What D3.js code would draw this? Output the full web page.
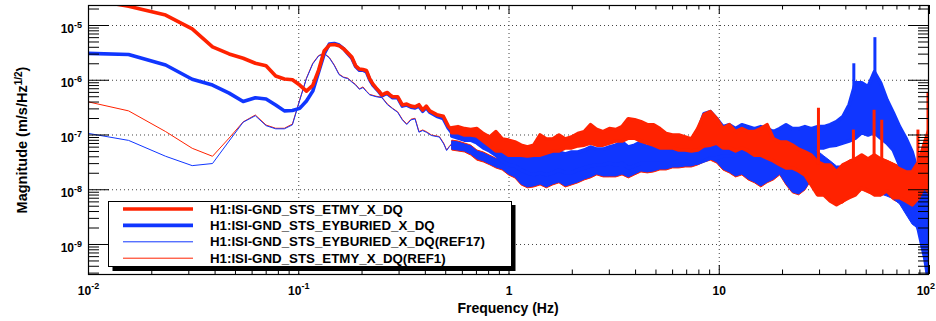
<!DOCTYPE html>
<html>
<head>
<meta charset="utf-8">
<title>H1 ISI ground STS spectra</title>
<script src="https://cdn.jsdelivr.net/npm/d3@7/dist/d3.min.js"></script>
<style>
  html, body { margin: 0; padding: 0; background: #fff; }
  svg { display: block; }
  text { font-family: "Liberation Sans", Arial, Helvetica, sans-serif; font-weight: bold; }
</style>
</head>
<body>
<svg id="chart" width="936" height="321"></svg>
<script>
// ---------------- axis ranges and tick labels ----------------
const xRange = [0.01, 100];
const yRange = [2.83e-10, 2.32e-5];
const xTickValues = [0.01, 0.1, 1, 10, 100];
const xTickLabels = ["10^-2", "10^-1", "1", "10", "10^2"];
const yTickValues = [1e-9, 1e-8, 1e-7, 1e-6, 1e-5];
const yTickLabels = ["10^-9", "10^-8", "10^-7", "10^-6", "10^-5"];
const xTitle = "Frequency (Hz)";
const yTitle = ["Magnitude (m/s/Hz", "1/2", ")"];

// ---------------- channel names (legend order) ----------------
const channelNames = [
  "H1:ISI-GND_STS_ETMY_X_DQ",
  "H1:ISI-GND_STS_EYBURIED_X_DQ",
  "H1:ISI-GND_STS_EYBURIED_X_DQ(REF17)",
  "H1:ISI-GND_STS_ETMY_X_DQ(REF1)"
];

// ---------------- low-frequency spectra (single-valued) ----------------
const lowFreqLive = [0.0078, 0.0156, 0.0234, 0.0313, 0.0391, 0.0469, 0.0547, 0.0625, 0.0703, 0.0781,
  0.0859, 0.0938, 0.1016, 0.1094, 0.1172, 0.125, 0.1328, 0.1406, 0.1484, 0.1563,
  0.1641, 0.1719, 0.1797, 0.1875, 0.1953, 0.2031, 0.2109, 0.2188, 0.2266, 0.2344,
  0.2422, 0.25, 0.2578, 0.2656, 0.2734, 0.2813, 0.2969, 0.3125, 0.3281, 0.3438,
  0.3594, 0.375, 0.3906, 0.4063, 0.4219, 0.4556, 0.4898, 0.517, 0.537];
const etmyLow = [3.5e-5, 2.2e-5, 1.52e-5, 8.5e-6, 4.0e-6, 2.96e-6, 2.47e-6, 2.0e-6, 1.8e-6, 1.17e-6,
  1.03e-6, 1.0e-6, 8.0e-7, 6.2e-7, 7.9e-7, 1.5e-6, 3.35e-6, 4.3e-6, 4.4e-6, 4.2e-6,
  3.7e-6, 3.1e-6, 2.6e-6, 1.8e-6, 1.57e-6, 1.54e-6, 1.48e-6, 1.04e-6, 8.3e-7, 7.1e-7,
  6.2e-7, 5.26e-7, 5.6e-7, 5.85e-7, 5.26e-7, 4.9e-7, 4.9e-7, 3.46e-7, 3.6e-7, 3.3e-7,
  3.2e-7, 3.5e-7, 2.8e-7, 3.3e-7, 2.7e-7, 2.3e-7, 2.15e-7, 1.42e-7, 1.2e-7];
const eyburiedLow = [3.1e-6, 2.9e-6, 1.86e-6, 1.02e-6, 8.0e-7, 5.7e-7, 4.0e-7, 4.7e-7, 4.45e-7, 3.46e-7,
  2.7e-7, 2.75e-7, 3.0e-7, 4.1e-7, 6.2e-7, 1.39e-6, 2.96e-6, 4.5e-6, 4.6e-6, 4.3e-6,
  3.7e-6, 3.0e-6, 2.5e-6, 1.75e-6, 1.5e-6, 1.5e-6, 1.4e-6, 1.0e-6, 8.0e-7, 6.9e-7,
  6.0e-7, 5.1e-7, 5.4e-7, 5.6e-7, 5.1e-7, 4.7e-7, 4.7e-7, 3.3e-7, 3.45e-7, 3.15e-7,
  3.05e-7, 3.3e-7, 2.65e-7, 3.1e-7, 2.55e-7, 2.15e-7, 1.95e-7, 1.3e-7, 1.08e-7];

const lowFreqRef = [0.0078, 0.0156, 0.0234, 0.0313, 0.0391, 0.0469, 0.0547, 0.0625, 0.0703, 0.0781,
  0.0859, 0.0938, 0.1016, 0.1094, 0.1172, 0.125, 0.1328, 0.1406, 0.1484, 0.1563,
  0.1641, 0.1719, 0.1797, 0.1875, 0.1953, 0.2031, 0.2109, 0.2188, 0.2344, 0.25,
  0.2656, 0.2813, 0.2969, 0.3125, 0.3281, 0.3438, 0.3594, 0.375, 0.3906, 0.4063,
  0.4297, 0.4531, 0.4688, 0.4922, 0.5078, 0.5234, 0.537];
const ref17Low = [1.24e-7, 7.8e-8, 4.0e-8, 2.7e-8, 2.95e-8, 7.6e-8, 1.68e-7, 2.2e-7, 1.45e-7, 1.27e-7,
  1.27e-7, 1.5e-7, 4.2e-7, 1.05e-6, 1.95e-6, 2.72e-6, 3.0e-6, 2.5e-6, 1.82e-6, 1.24e-6,
  1.1e-6, 1.05e-6, 9.1e-7, 8.0e-7, 6.7e-7, 7.2e-7, 6.1e-7, 5.3e-7, 4.9e-7, 4.7e-7,
  3.5e-7, 2.95e-7, 2.55e-7, 1.85e-7, 1.52e-7, 1.85e-7, 1.93e-7, 1.1e-7, 1.18e-7, 1.1e-7,
  9.6e-8, 9.2e-8, 9.0e-8, 6.7e-8, 5.1e-8, 6.0e-8, 6.6e-8];
const ref1Low = [4.9e-7, 2.7e-7, 1.13e-7, 5.6e-8, 4.0e-8, 8.6e-8, 1.7e-7, 2.27e-7, 1.49e-7, 1.3e-7,
  1.3e-7, 1.55e-7, 4.3e-7, 1.07e-6, 2.0e-6, 2.77e-6, 3.05e-6, 2.55e-6, 1.86e-6, 1.27e-6,
  1.12e-6, 1.07e-6, 9.3e-7, 8.2e-7, 6.8e-7, 7.4e-7, 6.2e-7, 5.4e-7, 5.0e-7, 4.8e-7,
  3.6e-7, 3.0e-7, 2.6e-7, 1.9e-7, 1.56e-7, 1.9e-7, 1.98e-7, 1.13e-7, 1.21e-7, 1.13e-7,
  9.8e-8, 9.4e-8, 9.2e-8, 6.9e-8, 5.2e-8, 6.1e-8, 6.8e-8];

// ---------------- high-frequency spectra: min / max per frequency band ----------------
const bandFreq = [0.537, 0.575, 0.617, 0.661, 0.708, 0.759, 0.813, 0.871, 0.933, 1.0,
  1.072, 1.148, 1.23, 1.318, 1.413, 1.514, 1.622, 1.738, 1.862, 1.995,
  2.138, 2.291, 2.455, 2.63, 2.818, 3.02, 3.236, 3.467, 3.715, 3.981,
  4.266, 4.571, 4.898, 5.248, 5.623, 6.026, 6.457, 6.918, 7.413, 7.943,
  8.511, 9.12, 9.772, 10.47, 11.22, 12.02, 12.88, 13.8, 14.79, 15.85,
  16.98, 18.2, 19.5, 20.89, 22.39, 23.99, 25.7, 27.54, 29.51, 31.62,
  33.88, 36.31, 38.9, 41.69, 44.67, 47.86, 51.29, 54.95, 58.88, 63.1,
  67.61, 72.44, 77.62, 83.18, 89.13, 95.5, 100];

const etmyHi = [1.33e-7, 1.39e-7, 1.28e-7, 1.23e-7, 1.28e-7, 1.04e-7, 9.0e-8, 1.13e-7, 8.3e-8, 7.9e-8,
  7.3e-8, 6.4e-8, 5.9e-8, 6.4e-8, 9.8e-8, 8.3e-8, 8.3e-8, 9.8e-8, 8.3e-8, 9.0e-8,
  1.04e-7, 1.13e-7, 1.51e-7, 1.23e-7, 1.13e-7, 1.28e-7, 1.23e-7, 1.39e-7, 1.94e-7, 1.86e-7,
  1.71e-7, 1.51e-7, 1.51e-7, 1.28e-7, 1.04e-7, 9.8e-8, 9.8e-8, 9.0e-8, 8.3e-8, 1.28e-7,
  2.3e-7, 2.61e-7, 1.94e-7, 1.28e-7, 1.51e-7, 1.13e-7, 1.28e-7, 1.13e-7, 1.13e-7, 1.28e-7,
  1.51e-7, 8.3e-8, 7.3e-8, 7.3e-8, 6.4e-8, 5.4e-8, 4.8e-8, 4.2e-8, 3.15e-8, 2.78e-8,
  2.78e-8, 2.07e-8, 2.78e-8, 3.15e-8, 3.57e-8, 4.23e-8, 3.57e-8, 4.23e-8, 3.57e-8, 3.15e-8,
  2.78e-8, 2.35e-8, 2.07e-8, 2.07e-8, 3.15e-8, 7.3e-8, 1.23e-7];
const etmyLo = [1.08e-7, 1.08e-7, 9.8e-8, 9.8e-8, 9.4e-8, 7.6e-8, 6.2e-8, 5.0e-8, 5.0e-8, 4.2e-8,
  4.2e-8, 4.2e-8, 4.05e-8, 4.2e-8, 4.2e-8, 4.6e-8, 5.0e-8, 5.0e-8, 5.7e-8, 5.7e-8,
  6.2e-8, 6.4e-8, 7.0e-8, 6.4e-8, 6.4e-8, 7.0e-8, 7.6e-8, 7.6e-8, 8.6e-8, 8.6e-8,
  7.6e-8, 7.0e-8, 6.4e-8, 5.7e-8, 5.7e-8, 5.7e-8, 5.2e-8, 5.2e-8, 5.0e-8, 5.2e-8,
  6.2e-8, 6.4e-8, 7.0e-8, 5.7e-8, 5.7e-8, 5.0e-8, 5.7e-8, 5.0e-8, 4.2e-8, 4.2e-8,
  3.7e-8, 3.3e-8, 2.8e-8, 2.45e-8, 2.45e-8, 2.16e-8, 1.83e-8, 1.2e-8, 7.9e-9, 7.9e-9,
  6.1e-9, 5.2e-9, 6.1e-9, 7.0e-9, 7.9e-9, 1.06e-8, 9.4e-9, 7.9e-9, 7.9e-9, 9.4e-9,
  7.0e-9, 7.0e-9, 6.1e-9, 5.2e-9, 7.0e-9, 1.2e-8, 1.2e-8];

const eyburiedHi = [1.23e-7, 1.13e-7, 1.04e-7, 1.04e-7, 9.0e-8, 8.3e-8, 7.3e-8, 6.4e-8, 5.4e-8, 5.2e-8,
  4.8e-8, 4.8e-8, 4.4e-8, 4.2e-8, 4.8e-8, 4.4e-8, 4.8e-8, 4.8e-8, 4.4e-8, 4.8e-8,
  4.8e-8, 5.2e-8, 5.9e-8, 5.4e-8, 5.4e-8, 5.9e-8, 6.4e-8, 7.3e-8, 5.9e-8, 6.4e-8,
  7.3e-8, 5.9e-8, 6.4e-8, 6.4e-8, 5.9e-8, 5.4e-8, 5.9e-8, 6.7e-8, 6.4e-8, 1.13e-7,
  2.4e-7, 2.61e-7, 1.94e-7, 1.39e-7, 1.51e-7, 1.28e-7, 1.51e-7, 1.39e-7, 1.28e-7, 1.39e-7,
  1.28e-7, 1.13e-7, 1.28e-7, 1.51e-7, 1.28e-7, 1.28e-7, 1.39e-7, 1.28e-7, 1.39e-7, 1.39e-7,
  1.51e-7, 1.71e-7, 2.11e-7, 3.5e-7, 8.8e-7, 8.8e-7, 7.45e-7, 1.39e-6, 8.8e-7, 4.31e-7,
  2.5e-7, 1.39e-7, 8.6e-8, 4.8e-8, 1.83e-8, 6.4e-9, 2.7e-9];
const eyburiedLo = [9.4e-8, 8.6e-8, 7.9e-8, 7.9e-8, 7.0e-8, 5.7e-8, 5.0e-8, 4.2e-8, 3.3e-8, 2.78e-8,
  2.66e-8, 2.25e-8, 1.99e-8, 1.83e-8, 1.99e-8, 1.83e-8, 1.99e-8, 2.25e-8, 1.99e-8, 1.99e-8,
  2.25e-8, 2.45e-8, 2.66e-8, 2.78e-8, 2.78e-8, 3.0e-8, 2.78e-8, 3.0e-8, 2.45e-8, 2.66e-8,
  3.0e-8, 3.0e-8, 3.0e-8, 3.0e-8, 3.0e-8, 3.0e-8, 3.3e-8, 3.3e-8, 3.0e-8, 3.0e-8,
  3.3e-8, 3.7e-8, 3.7e-8, 4.05e-8, 4.05e-8, 4.2e-8, 4.6e-8, 4.6e-8, 4.2e-8, 4.2e-8,
  4.2e-8, 4.2e-8, 4.6e-8, 4.6e-8, 4.6e-8, 4.6e-8, 5.0e-8, 5.0e-8, 5.7e-8, 5.7e-8,
  6.2e-8, 6.4e-8, 7.0e-8, 7.6e-8, 8.6e-8, 1.08e-7, 9.8e-8, 1.08e-7, 8.6e-8, 7.0e-8,
  5.2e-8, 2.78e-8, 1.2e-8, 4.2e-9, 1.8e-9, 5.5e-10, 1.8e-10];

const ref17Hi = [7.6e-8, 7.3e-8, 6.7e-8, 6.2e-8, 5.0e-8, 4.6e-8, 4.05e-8, 3.6e-8, 3.3e-8, 3.0e-8,
  2.9e-8, 2.9e-8, 2.66e-8, 2.9e-8, 3.0e-8, 2.66e-8, 2.9e-8, 3.3e-8, 2.9e-8, 3.0e-8,
  3.3e-8, 3.6e-8, 4.05e-8, 4.05e-8, 3.0e-8, 2.9e-8, 3.3e-8, 3.6e-8, 3.3e-8, 3.7e-8,
  4.05e-8, 3.7e-8, 4.05e-8, 4.4e-8, 5.0e-8, 4.6e-8, 5.0e-8, 5.0e-8, 5.4e-8, 6.2e-8,
  7.6e-8, 8.3e-8, 7.0e-8, 6.2e-8, 5.7e-8, 5.0e-8, 5.7e-8, 5.0e-8, 4.6e-8, 4.05e-8,
  5.0e-8, 5.0e-8, 6.2e-8, 5.0e-8, 4.05e-8, 3.3e-8, 4.05e-8, 5.0e-8, 5.0e-8, 4.05e-8,
  3.3e-8, 2.66e-8, 2.66e-8, 3.3e-8, 3.6e-8, 4.05e-8, 3.6e-8, 3.6e-8, 3.3e-8, 3.0e-8,
  2.66e-8, 2.16e-8, 1.75e-8, 1.42e-8, 1.15e-8, 9.3e-9, 7.5e-9];
const ref17Lo = [5.4e-8, 5.2e-8, 5.0e-8, 4.4e-8, 3.6e-8, 3.3e-8, 2.9e-8, 2.55e-8, 2.35e-8, 1.9e-8,
  1.68e-8, 1.25e-8, 1.1e-8, 1.15e-8, 1.25e-8, 1.1e-8, 1.25e-8, 1.36e-8, 1.15e-8, 1.25e-8,
  1.36e-8, 1.54e-8, 1.68e-8, 1.9e-8, 1.75e-8, 1.75e-8, 1.75e-8, 1.9e-8, 1.68e-8, 1.9e-8,
  2.16e-8, 2.07e-8, 2.16e-8, 2.35e-8, 2.35e-8, 2.55e-8, 2.55e-8, 2.66e-8, 2.66e-8, 2.9e-8,
  3.3e-8, 3.6e-8, 3.15e-8, 2.35e-8, 2.07e-8, 1.75e-8, 1.9e-8, 1.54e-8, 1.36e-8, 1.15e-8,
  1.36e-8, 1.54e-8, 1.9e-8, 1.25e-8, 8.9e-9, 8.2e-9, 1.0e-8, 1.54e-8, 1.75e-8, 1.25e-8,
  8.2e-9, 6.7e-9, 6.7e-9, 8.2e-9, 8.9e-9, 1.0e-8, 9.4e-9, 8.2e-9, 8.2e-9, 7.5e-9,
  6.7e-9, 5.4e-9, 3.5e-9, 2.3e-9, 1.9e-9, 1.23e-9, 8.1e-10];

const ref1Hi = [7.9e-8, 7.6e-8, 7.0e-8, 6.4e-8, 5.2e-8, 4.8e-8, 4.2e-8, 3.7e-8, 3.4e-8, 3.15e-8,
  3.0e-8, 3.0e-8, 2.78e-8, 3.0e-8, 3.15e-8, 2.78e-8, 3.0e-8, 3.4e-8, 3.0e-8, 3.15e-8,
  3.4e-8, 3.7e-8, 4.2e-8, 4.2e-8, 3.15e-8, 3.0e-8, 3.4e-8, 3.7e-8, 3.4e-8, 3.9e-8,
  4.2e-8, 3.9e-8, 4.2e-8, 4.6e-8, 5.2e-8, 4.8e-8, 5.2e-8, 5.2e-8, 5.7e-8, 6.4e-8,
  7.9e-8, 8.6e-8, 7.3e-8, 6.4e-8, 5.9e-8, 5.2e-8, 5.9e-8, 5.2e-8, 4.8e-8, 4.2e-8,
  5.2e-8, 5.2e-8, 6.4e-8, 5.2e-8, 4.2e-8, 3.4e-8, 4.2e-8, 5.2e-8, 5.2e-8, 3.4e-8,
  3.0e-8, 2.45e-8, 2.78e-8, 3.4e-8, 3.7e-8, 4.2e-8, 3.7e-8, 4.05e-8, 3.7e-8, 3.4e-8,
  3.0e-8, 2.66e-8, 2.25e-8, 2.25e-8, 2.78e-8, 5.2e-8, 1.23e-7];
const ref1Lo = [5.2e-8, 5.0e-8, 4.8e-8, 4.2e-8, 3.4e-8, 3.15e-8, 2.8e-8, 2.45e-8, 2.25e-8, 1.83e-8,
  1.61e-8, 1.2e-8, 1.06e-8, 1.1e-8, 1.2e-8, 1.06e-8, 1.2e-8, 1.31e-8, 1.1e-8, 1.2e-8,
  1.31e-8, 1.48e-8, 1.61e-8, 1.83e-8, 1.68e-8, 1.68e-8, 1.68e-8, 1.83e-8, 1.61e-8, 1.83e-8,
  2.07e-8, 1.99e-8, 2.07e-8, 2.25e-8, 2.25e-8, 2.45e-8, 2.45e-8, 2.55e-8, 2.55e-8, 2.78e-8,
  3.15e-8, 3.4e-8, 3.0e-8, 2.25e-8, 1.99e-8, 1.68e-8, 1.83e-8, 1.48e-8, 1.31e-8, 1.1e-8,
  1.31e-8, 1.48e-8, 1.83e-8, 1.2e-8, 8.6e-9, 7.9e-9, 9.7e-9, 1.48e-8, 1.68e-8, 9.7e-9,
  6.4e-9, 5.2e-9, 5.6e-9, 7.0e-9, 7.9e-9, 9.7e-9, 8.6e-9, 7.9e-9, 7.6e-9, 8.6e-9,
  6.4e-9, 5.6e-9, 4.7e-9, 3.4e-9, 2.2e-9, 4.2e-9, 6.4e-9];

// ---------------- narrow lines standing above the noise ----------------
const etmyLineFreq = [29.8, 43.7, 54.8, 59.6, 88.6, 98.9];
const etmyLineTop = [3.08e-7, 1.23e-7, 2.83e-7, 1.86e-7, 1.23e-7, 6.0e-7];
const etmyLineBase = [2.8e-8, 3.6e-8, 4.2e-8, 3.6e-8, 3.2e-8, 4.3e-8];
const eyburiedLineFreq = [43.9, 55.3];
const eyburiedLineTop = [2.0e-6, 6.0e-6];
const eyburiedLineBase = [6.0e-7, 1.0e-6];

// ---------------- drawing ----------------
const RED = "#ff2200", BLUE = "#1036ff";
const FONT = '"Liberation Sans", Arial, Helvetica, sans-serif';
const frame = { left: 88, right: 929, top: 5, bottom: 274 };
const W = 936;

const svg = d3.select("#chart");
const x = d3.scaleLog().domain(xRange).range([frame.left, frame.right]);
const y = d3.scaleLog().domain(yRange).range([frame.bottom, frame.top]);

const isDecade = v => Math.abs(Math.log10(v) - Math.round(Math.log10(v))) < 1e-6;
const xMinor = x.ticks().filter(v => !isDecade(v));
const yMinor = y.ticks().filter(v => !isDecade(v));

svg.append("rect").attr("width", 936).attr("height", 321).attr("fill", "#fff");

// dotted grid at the decades
const grid = svg.append("g");
grid.append("g").attr("transform", `translate(0,${frame.bottom})`)
  .call(d3.axisBottom(x).tickValues(xTickValues.slice(1, -1))
    .tickSize(-(frame.bottom - frame.top)).tickFormat(""));
grid.append("g").attr("transform", `translate(${frame.left},0)`)
  .call(d3.axisLeft(y).tickValues(yTickValues)
    .tickSize(-(frame.right - frame.left)).tickFormat(""));
grid.selectAll(".domain").remove();
grid.selectAll("line").attr("stroke", "#444").attr("stroke-width", 1).attr("stroke-dasharray", "1,3");

// spectra
svg.append("clipPath").attr("id", "plotClip").append("rect")
  .attr("x", frame.left).attr("y", frame.top)
  .attr("width", frame.right - frame.left).attr("height", frame.bottom - frame.top);
const plotG = svg.append("g").attr("clip-path", "url(#plotClip)");

const series = [
  { color: RED,  width: 1,   lowF: lowFreqRef,  low: ref1Low,     hi: ref1Hi,     lo: ref1Lo },
  { color: BLUE, width: 1,   lowF: lowFreqRef,  low: ref17Low,    hi: ref17Hi,    lo: ref17Lo },
  { color: BLUE, width: 3.6, lowF: lowFreqLive, low: eyburiedLow, hi: eyburiedHi, lo: eyburiedLo,
    lineF: eyburiedLineFreq, lineTop: eyburiedLineTop, lineBase: eyburiedLineBase },
  { color: RED,  width: 3.6, lowF: lowFreqLive, low: etmyLow,     hi: etmyHi,     lo: etmyLo,
    lineF: etmyLineFreq, lineTop: etmyLineTop, lineBase: etmyLineBase }
];

const lineGen = d3.line().x(d => x(d.f)).y(d => y(d.v));
const areaGen = d3.area().x(d => x(d.f)).y0(d => y(d.lo)).y1(d => y(d.hi));

series.forEach(s => {
  const g = plotG.append("g");
  const lowPts = s.lowF.map((f, i) => ({ f, v: s.low[i] }));
  const band = bandFreq.map((f, i) => ({ f, lo: s.lo[i], hi: s.hi[i] }));
  g.append("path").datum(lowPts).attr("d", lineGen)
    .attr("fill", "none").attr("stroke", s.color).attr("stroke-width", s.width)
    .attr("stroke-linejoin", "round").attr("stroke-linecap", "round");
  g.append("path").datum(band).attr("d", areaGen)
    .attr("fill", s.color).attr("stroke", s.color).attr("stroke-width", s.width)
    .attr("stroke-linejoin", "round");
  if (s.lineF) {
    g.selectAll("line").data(s.lineF.map((f, i) => ({ f, top: s.lineTop[i], base: s.lineBase[i] })))
      .join("line")
      .attr("x1", d => x(d.f)).attr("x2", d => x(d.f))
      .attr("y1", d => y(d.base)).attr("y2", d => y(d.top))
      .attr("stroke", s.color).attr("stroke-width", 3);
  }
});

// axes: ticks on all four sides, labels on bottom and left
function superscripts(g, supSize, supDy) {
  g.selectAll(".tick text").each(function () {
    const t = d3.select(this);
    const parts = t.text().split("^");
    if (parts.length < 2) return;
    t.text(parts[0]);
    t.append("tspan").attr("dy", supDy).attr("font-size", supSize).text(parts[1]);
  });
}
function styleAxis(g) {
  g.select(".domain").remove();
  g.attr("font-family", FONT).attr("font-size", 12).attr("font-weight", "bold");
  g.selectAll(".tick text").attr("fill", "#000");
}
// keep the last x label inside the drawing surface
function keepInside(g) {
  g.selectAll(".tick text").each(function () {
    const t = d3.select(this);
    const tx = d3.select(this.parentNode).attr("transform").match(/translate\(([-\d.]+)/);
    const cx = tx ? +tx[1] : 0;
    const w = this.getComputedTextLength();
    if (cx + w / 2 > W - 1) t.attr("text-anchor", "end").attr("x", W - 1 - cx);
  });
}

const axes = svg.append("g");
// bottom
axes.append("g").attr("transform", `translate(0,${frame.bottom})`)
  .call(d3.axisBottom(x).tickValues(xMinor).tickSize(-4.5).tickFormat("")).call(styleAxis);
axes.append("g").attr("transform", `translate(0,${frame.bottom})`)
  .call(d3.axisBottom(x).tickValues(xTickValues).tickSizeInner(-9).tickSizeOuter(0)
    .tickPadding(12.5).tickFormat((d, i) => xTickLabels[i]))
  .call(styleAxis).call(g => superscripts(g, 9, -6)).call(keepInside);
// top
axes.append("g").attr("transform", `translate(0,${frame.top})`)
  .call(d3.axisTop(x).tickValues(xMinor).tickSize(-4.5).tickFormat("")).call(styleAxis);
axes.append("g").attr("transform", `translate(0,${frame.top})`)
  .call(d3.axisTop(x).tickValues(xTickValues).tickSize(-9).tickFormat("")).call(styleAxis);
// left
axes.append("g").attr("transform", `translate(${frame.left},0)`)
  .call(d3.axisLeft(y).tickValues(yMinor).tickSize(-11).tickFormat("")).call(styleAxis);
axes.append("g").attr("transform", `translate(${frame.left},0)`)
  .call(d3.axisLeft(y).tickValues(yTickValues).tickSizeInner(-21).tickSizeOuter(0)
    .tickPadding(6).tickFormat((d, i) => yTickLabels[i]))
  .call(styleAxis)
  .call(g => g.selectAll(".tick text").attr("dy", "0.6em"))
  .call(g => superscripts(g, 9, -5));
// right
axes.append("g").attr("transform", `translate(${frame.right},0)`)
  .call(d3.axisRight(y).tickValues(yMinor).tickSize(-11).tickFormat("")).call(styleAxis);
axes.append("g").attr("transform", `translate(${frame.right},0)`)
  .call(d3.axisRight(y).tickValues(yTickValues).tickSize(-21).tickFormat("")).call(styleAxis);

// frame
svg.append("rect")
  .attr("x", frame.left + 0.5).attr("y", frame.top + 0.5)
  .attr("width", frame.right - frame.left - 1).attr("height", frame.bottom - frame.top)
  .attr("fill", "none").attr("stroke", "#000").attr("stroke-width", 1.2);

// axis titles
svg.append("text").attr("x", 508).attr("y", 313).attr("text-anchor", "middle")
  .attr("font-size", 14).attr("fill", "#000").text(xTitle);
const yt = svg.append("text").attr("transform", "translate(26.5,140) rotate(-90)")
  .attr("text-anchor", "middle").attr("font-size", 14.5).attr("fill", "#000");
yt.append("tspan").text(yTitle[0]);
yt.append("tspan").attr("dy", -5).attr("font-size", 10).text(yTitle[1]);
yt.append("tspan").attr("dy", 5).text(yTitle[2]);

// legend
const legendStyle = [
  { color: RED, width: 3.6 }, { color: BLUE, width: 3.6 },
  { color: BLUE, width: 1 }, { color: RED, width: 1 }
];
const legend = svg.append("g");
legend.append("rect").attr("x", 112.5).attr("y", 205).attr("width", 403).attr("height", 66).attr("fill", "#000");
legend.append("rect").attr("x", 108.5).attr("y", 201.5).attr("width", 403).attr("height", 65)
  .attr("fill", "#fff").attr("stroke", "#000").attr("stroke-width", 1);
const rows = legend.selectAll("g.row").data(channelNames).join("g")
  .attr("transform", (d, i) => `translate(0,${209 + i * 16.4})`);
rows.append("line").attr("x1", 123).attr("x2", 193).attr("y1", 0).attr("y2", 0)
  .attr("stroke", (d, i) => legendStyle[i].color).attr("stroke-width", (d, i) => legendStyle[i].width);
rows.append("text").attr("x", 210).attr("y", 4.6).attr("font-size", 13.3).attr("fill", "#000").text(d => d);
</script>
</body>
</html>
